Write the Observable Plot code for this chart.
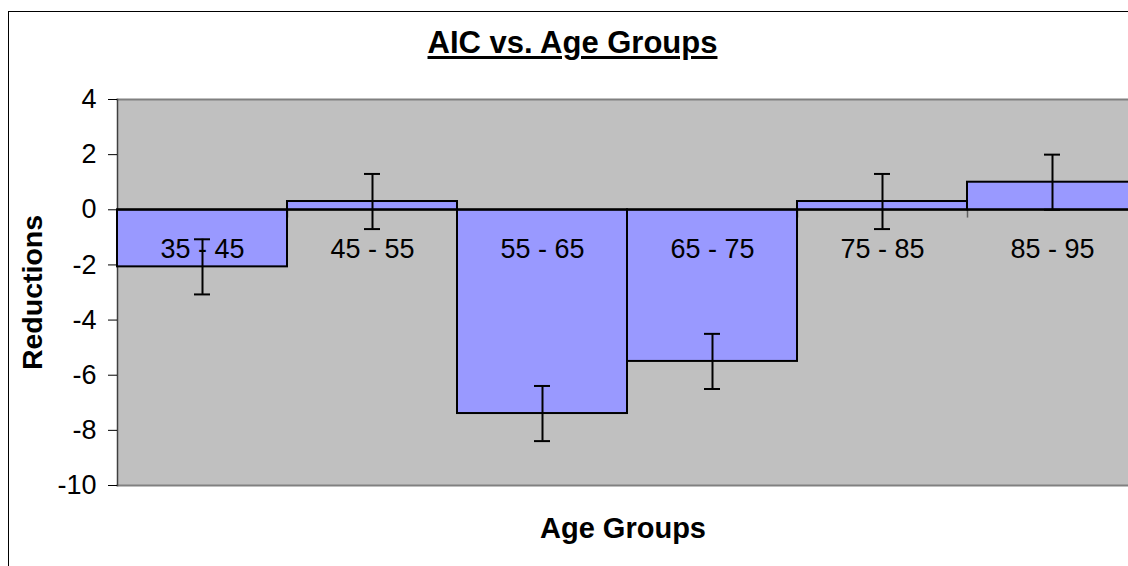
<!DOCTYPE html>
<html>
<head>
<meta charset="utf-8">
<script src="https://cdn.jsdelivr.net/npm/d3@7"></script>
<script src="https://cdn.jsdelivr.net/npm/@observablehq/plot@0.6"></script>
<style>
  html, body { margin: 0; padding: 0; background: #fff; overflow: hidden; }
  #wrap { position: relative; width: 1128px; height: 566px; overflow: hidden; }
  #border { position: absolute; left: 8px; top: 11px; width: 1300px; height: 700px; border: 1px solid #000; box-sizing: border-box; pointer-events: none; }
  #title { position: absolute; left: 0; top: 27px; width: 1145px; text-align: center;
    font-family: "Liberation Sans", Arial, sans-serif; font-weight: bold; font-size: 31px; line-height: 31px;
    text-decoration: underline; text-decoration-thickness: 3px; text-underline-offset: 3px; color: #000; }
  #chart { position: absolute; left: 0; top: 0; }
</style>
</head>
<body>
<div id="wrap">
  <div id="chart"></div>
  <div id="border"></div>
  <div id="title">AIC vs. Age Groups</div>
</div>
<script>
const groups = ["35 - 45", "45 - 55", "55 - 65", "65 - 75", "75 - 85", "85 - 95"];
const values = [-2.07, 0.3, -7.39, -5.5, 0.3, 1.0];
const errors = [1.0, 1.0, 1.0, 1.0, 1.0, 1.0];
const yTicks = [4, 2, 0, -2, -4, -6, -8, -10];
const xTitle = "Age Groups";
const yTitle = "Reductions";

const data = groups.map((g, i) => ({group: g, value: values[i], err: errors[i]}));

const chart = Plot.plot({
  width: 1128,
  height: 566,
  marginLeft: 117,
  marginRight: 0,
  marginTop: 99,
  marginBottom: 81,
  style: {fontFamily: "'Liberation Sans', Arial, sans-serif", background: "transparent", color: "#000"},
  x: {type: "band", domain: groups, range: [117, 1137], padding: 0, axis: null},
  y: {domain: [-10, 4], axis: null},
  marks: [
    Plot.frame({fill: "#C0C0C0", stroke: null}),
    Plot.frame({anchor: "top", stroke: "#808080", strokeWidth: 2}),
    Plot.frame({anchor: "bottom", stroke: "#808080", strokeWidth: 2}),
    Plot.frame({anchor: "left", stroke: "#404040", strokeWidth: 1.5}),
    Plot.axisY({ticks: yTicks, tickSize: 9, tickPadding: 12, fontSize: 27, label: null, tickFormat: d => String(d).replace("−", "-")}),
    Plot.ruleX(groups, {x: d => d, dx: -85, y1: 0, y2: -0.3, stroke: "#606060", strokeWidth: 1.5}),
    Plot.barY(data, {x: "group", y: "value", fill: "#9999FF", stroke: "#000", strokeWidth: 2}),
    Plot.ruleY([0], {stroke: "#000", strokeWidth: 2}),
    Plot.text(data, {x: "group", y: 0, text: "group", dy: 40, fontSize: 27, fill: "#000"}),
    Plot.ruleX(data, {x: "group", y1: d => d.value - d.err, y2: d => d.value + d.err, stroke: "#000", strokeWidth: 2}),
    Plot.tickY(data, {x: "group", y: d => d.value - d.err, insetLeft: 77, insetRight: 77, stroke: "#000", strokeWidth: 2}),
    Plot.tickY(data, {x: "group", y: d => d.value + d.err, insetLeft: 77, insetRight: 77, stroke: "#000", strokeWidth: 2}),
    Plot.text([yTitle], {frameAnchor: "left", textAnchor: "middle", rotate: -90, dx: -85, fontSize: 28.5, fontWeight: "bold", fill: "#000"}),
    Plot.text([xTitle], {frameAnchor: "bottom", dy: 52, fontSize: 29, fontWeight: "bold", fill: "#000"})
  ]
});
document.getElementById("chart").appendChild(chart);
</script>
</body>
</html>
